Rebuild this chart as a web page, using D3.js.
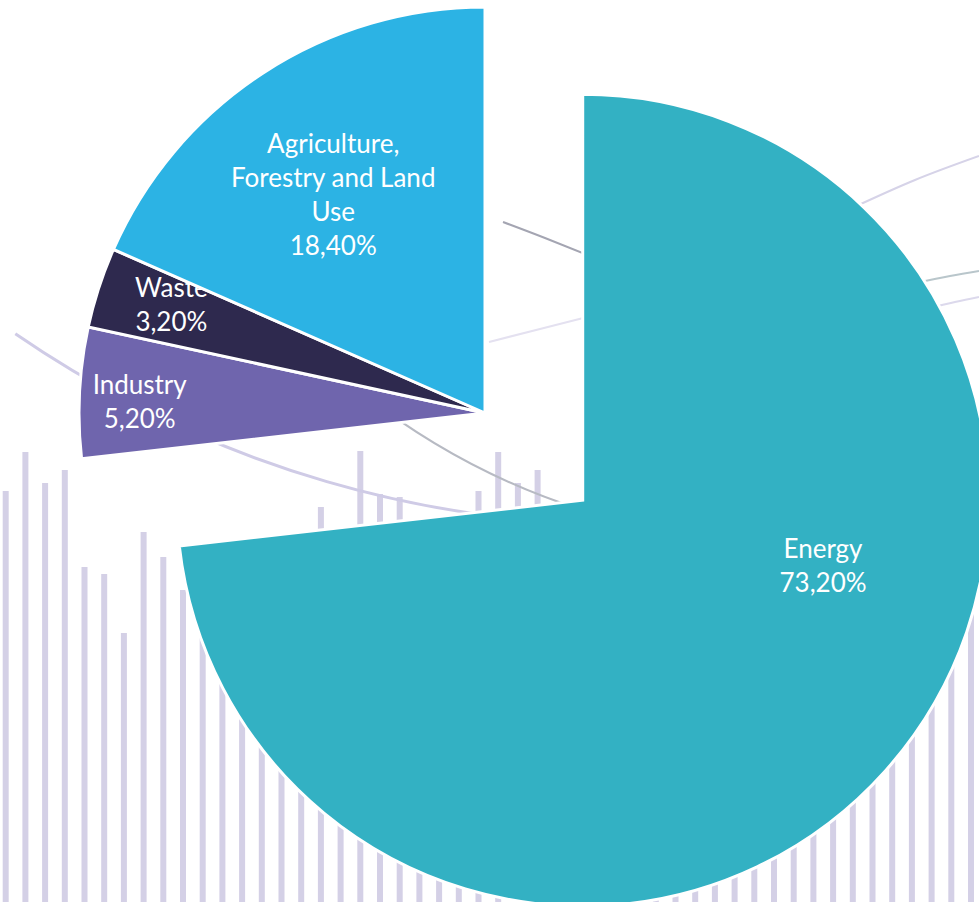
<!DOCTYPE html>
<html>
<head>
<meta charset="utf-8">
<script src="https://cdn.jsdelivr.net/npm/d3@7"></script>
<style>
  html, body { margin: 0; padding: 0; background: #ffffff; overflow: hidden; }
  svg { display: block; }
</style>
</head>
<body>
<svg id="chart" width="979" height="902"></svg>
<script>
// ---------- chart data ----------
const categories  = ["Energy", "Industry", "Waste", "Agriculture, Forestry and Land Use"];
const shares      = [73.2, 5.2, 3.2, 18.4];
const valueLabels = ["73,20%", "5,20%", "3,20%", "18,40%"];
const labelLines  = [["Energy"], ["Industry"], ["Waste"], ["Agriculture,", "Forestry and Land", "Use"]];
const sliceColors = ["#33b1c3", "#6f65ad", "#2e294e", "#2cb3e4"];

// ---------- decorative backdrop (repeating tile of bar top heights) ----------
const backdropBarTops = [491, 452, 483, 470, 567, 574, 633, 532, 557, 590, 610, 625,
                         640, 600, 620, 560, 507, 545, 451, 494, 497, 530, 525, 520];

const W = 979, H = 902;
const svg = d3.select("#chart");

// ---------- layout ----------
const center = { x: 485, y: 413 };
const radius = 406;
const explode = [131, 0, 0, 0];
// label placement inside each slice: angle (deg, clockwise from 12 o'clock) and radius fraction
const labelPlace = [
  { angle: 105.4, r: 0.614 },
  { angle: 271.8, r: 0.851 },
  { angle: 289.0, r: 0.817 },
  { angle: 325.2, r: 0.655 }
];

// ---------- backdrop bars ----------
const nBars = 50;
const xBar = d3.scaleLinear().domain([0, nBars - 1]).range([5.7, 971]);
const bg = svg.append("g").attr("class", "backdrop");
bg.selectAll("rect.bar")
  .data(d3.range(nBars))
  .join("rect")
  .attr("class", "bar")
  .attr("x", i => xBar(i) - 3)
  .attr("width", 6)
  .attr("y", i => backdropBarTops[i % backdropBarTops.length])
  .attr("height", i => H - backdropBarTops[i % backdropBarTops.length] + 2)
  .attr("fill", "#d4d0e6");

// decorative arcs
const deg = Math.PI / 180;
const backdropArcs = [
  { cx: 631, cy: -562, r: 1087, a0: 88, a1: 124.5, color: "#cfcbe6", w: 3 },
  { cx: 795, cy: -157, r: 700,  a0: 104, a1: 128, color: "#b7bac3", w: 2 }
];
backdropArcs.forEach(a => {
  const p = d3.path();
  p.arc(a.cx, a.cy, a.r, a.a0 * deg, a.a1 * deg, false);
  bg.append("path").attr("d", p.toString())
    .attr("fill", "none").attr("stroke", a.color).attr("stroke-width", a.w);
});
const backdropStrokes = [
  { pts: [[503, 222], [545, 238], [595, 258]], color: "#a4a5b2", w: 2 },
  { pts: [[489, 342], [540, 329], [595, 315]], color: "#e4e1f0", w: 2 },
  { pts: [[850, 209], [915, 180], [979, 156]], color: "#d6d3e8", w: 2 },
  { pts: [[915, 283], [950, 276], [979, 271]], color: "#b9c6cb", w: 2 },
  { pts: [[925, 309], [955, 302], [979, 297]], color: "#dcd9ec", w: 2 }
];
const lineGen = d3.line().curve(d3.curveNatural);
backdropStrokes.forEach(s => {
  bg.append("path").attr("d", lineGen(s.pts))
    .attr("fill", "none").attr("stroke", s.color).attr("stroke-width", s.w);
});

// ---------- pie ----------
const pie = d3.pie().sort(null).value(d => d);
const arcs = pie(shares);
const arcGen = d3.arc().innerRadius(0).outerRadius(radius);

const slices = svg.append("g").attr("class", "slices");
arcs.forEach((a, i) => {
  const mid = (a.startAngle + a.endAngle) / 2;
  const ox = center.x + Math.sin(mid) * explode[i];
  const oy = center.y - Math.cos(mid) * explode[i];
  const g = slices.append("g").attr("transform", `translate(${ox},${oy})`);
  g.append("path")
    .attr("d", arcGen(a))
    .attr("fill", sliceColors[i])
    .attr("stroke", "#ffffff")
    .attr("stroke-width", 3)
    .attr("stroke-linejoin", "miter");

  // label
  const lp = labelPlace[i];
  const lx = Math.sin(lp.angle * deg) * radius * lp.r;
  const ly = -Math.cos(lp.angle * deg) * radius * lp.r;
  const lines = labelLines[i].concat([valueLabels[i]]);
  const lh = 34;
  const firstBaseline = ly - (lines.length - 1) * lh / 2 + 9;
  const t = g.append("text")
    .attr("text-anchor", "middle")
    .attr("fill", "#ffffff")
    .style("font-family", "Lato, 'Open Sans', sans-serif")
    .style("font-size", "26px");
  lines.forEach((ln, k) => {
    t.append("tspan").attr("x", lx).attr("y", firstBaseline + k * lh).text(ln);
  });
});
</script>
</body>
</html>
